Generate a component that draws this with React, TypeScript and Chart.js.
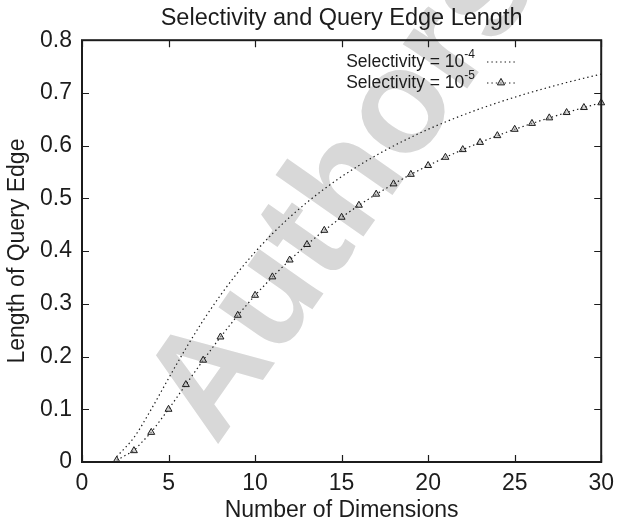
import React, { useEffect, useRef } from "react";
import { Chart, registerables } from "chart.js";

Chart.register(...registerables);

// ---- data ----
const dimensions = [2, 3, 4, 5, 6, 7, 8, 9, 10, 11, 12, 13, 14, 15, 16, 17, 18, 19, 20, 21, 22, 23, 24, 25, 26, 27, 28, 29, 30];
const edgeSel4 = [0.01, 0.0464, 0.1, 0.1585, 0.2154, 0.2683, 0.3162, 0.3594, 0.3981, 0.4329, 0.4642, 0.4924, 0.5179, 0.5412, 0.5623, 0.5816, 0.5995, 0.6158, 0.631, 0.6449, 0.6579, 0.67, 0.6813, 0.6918, 0.7017, 0.7109, 0.7197, 0.7279, 0.7356];
const edgeSel5 = [0.0032, 0.0215, 0.0562, 0.1, 0.1468, 0.1931, 0.2371, 0.2783, 0.3162, 0.3511, 0.3831, 0.4125, 0.4394, 0.4642, 0.487, 0.508, 0.5275, 0.5456, 0.5623, 0.5779, 0.5925, 0.6061, 0.619, 0.631, 0.6422, 0.6527, 0.6628, 0.6723, 0.6813];
const xTicks = [0, 5, 10, 15, 20, 25, 30];
const yTicks = [0, 0.1, 0.2, 0.3, 0.4, 0.5, 0.6, 0.7, 0.8];
const titleText = "Selectivity and Query Edge Length";
const xTitleText = "Number of Dimensions";
const yTitleText = "Length of Query Edge";
const legendBase = ["Selectivity = 10", "Selectivity = 10"];
const legendExp = ["-4", "-5"];
const watermarkText = "Authors";

const FONT = "'Liberation Sans', Arial, Helvetica, sans-serif";
const INK = "#1c1c1c";

const framePlugin = {
  id: "frameAndExtras",
  beforeDraw(chart: any) {
    const { ctx } = chart;
    ctx.save();
    ctx.translate(216, 447);
    ctx.rotate((-55 * Math.PI) / 180);
    ctx.font = `bold 148px ${FONT}`;
    ctx.fillStyle = "#d8d8d8";
    ctx.textAlign = "left";
    ctx.textBaseline = "alphabetic";
    ctx.fillText(watermarkText, 0, 0);
    ctx.restore();
  },
  afterDatasetsDraw(chart: any) {
    const { ctx, chartArea: a, scales } = chart;
    const x = scales.x;
    const y = scales.y;
    ctx.save();
    ctx.strokeStyle = INK;
    ctx.lineWidth = 1.2;
    ctx.beginPath();
    for (const t of xTicks) {
      const px = Math.round(x.getPixelForValue(t)) + 0.5;
      ctx.moveTo(px, a.bottom);
      ctx.lineTo(px, a.bottom - 7);
      ctx.moveTo(px, a.top);
      ctx.lineTo(px, a.top + 7);
    }
    for (const t of yTicks) {
      const py = Math.round(y.getPixelForValue(t)) + 0.5;
      ctx.moveTo(a.left, py);
      ctx.lineTo(a.left + 7, py);
      ctx.moveTo(a.right, py);
      ctx.lineTo(a.right - 7, py);
    }
    ctx.stroke();
    ctx.lineWidth = 2;
    ctx.strokeRect(a.left, a.top, a.right - a.left, a.bottom - a.top);

    // legend
    const rows = [62, 83];
    const textRight = 475;
    for (let i = 0; i < 2; i++) {
      const ry = rows[i];
      ctx.font = `12px ${FONT}`;
      const expW = ctx.measureText(legendExp[i]).width;
      ctx.font = `17.5px ${FONT}`;
      const baseW = ctx.measureText(legendBase[i]).width;
      ctx.fillStyle = INK;
      ctx.textBaseline = "middle";
      ctx.textAlign = "left";
      ctx.fillText(legendBase[i], textRight - expW - baseW, ry);
      ctx.font = `12px ${FONT}`;
      ctx.fillText(legendExp[i], textRight - expW, ry - 7);

      ctx.setLineDash([1.4, 3]);
      ctx.lineWidth = 1.2;
      ctx.beginPath();
      ctx.moveTo(487, ry);
      ctx.lineTo(515, ry);
      ctx.stroke();
      ctx.setLineDash([]);
      if (i === 1) {
        const cx = 501, cy = ry - 1, r = 3.6;
        ctx.beginPath();
        ctx.moveTo(cx, cy - r);
        ctx.lineTo(cx + r, cy + r * 0.8);
        ctx.lineTo(cx - r, cy + r * 0.8);
        ctx.closePath();
        ctx.fillStyle = "rgba(170,170,170,0.5)";
        ctx.fill();
        ctx.lineWidth = 1;
        ctx.stroke();
      }
    }
    ctx.restore();
  },
};

export default function App() {
  const ref = useRef<HTMLCanvasElement | null>(null);

  useEffect(() => {
    document.body.style.margin = "0";
    const canvas = ref.current;
    if (!canvas) return;
    const chart = new Chart(canvas, {
      type: "line",
      data: {
        datasets: [
          {
            label: "Selectivity = 10^-4",
            data: dimensions.map((d, i) => ({ x: d, y: edgeSel4[i] })),
            borderColor: INK,
            borderWidth: 1.2,
            borderDash: [1.4, 3],
            pointRadius: 0,
            cubicInterpolationMode: "monotone",
            fill: false,
          },
          {
            label: "Selectivity = 10^-5",
            data: dimensions.map((d, i) => ({ x: d, y: edgeSel5[i] })),
            borderColor: INK,
            borderWidth: 1.2,
            borderDash: [1.4, 3],
            pointStyle: "triangle",
            pointRadius: 4,
            pointBorderWidth: 1,
            pointBorderColor: INK,
            pointBackgroundColor: "rgba(170,170,170,0.5)",
            clip: false,
            fill: false,
          },
        ],
      } as any,
      options: {
        responsive: false,
        animation: false,
        devicePixelRatio: 1,
        layout: { padding: { left: 0, right: 13, top: 0, bottom: 0 } },
        plugins: {
          legend: { display: false },
          tooltip: { enabled: false },
          title: {
            display: true,
            fullSize: false,
            text: titleText,
            color: INK,
            font: { family: FONT, size: 23.5, weight: "normal" },
            padding: { top: 4, bottom: 8 },
          },
        },
        scales: {
          x: {
            type: "linear",
            min: 0,
            max: 30,
            afterBuildTicks: (s: any) => {
              s.ticks = xTicks.map((v) => ({ value: v }));
            },
            afterFit: (s: any) => {
              s.height = 63;
            },
            grid: { display: false, drawTicks: false },
            border: { display: false },
            ticks: {
              color: INK,
              padding: 8,
              maxRotation: 0,
              font: { family: FONT, size: 23 },
              callback: (v: any) => String(v),
            },
            title: {
              display: true,
              text: xTitleText,
              color: INK,
              font: { family: FONT, size: 23 },
              padding: { top: 0, bottom: 1 },
            },
          },
          y: {
            type: "linear",
            min: 0,
            max: 0.8,
            afterBuildTicks: (s: any) => {
              s.ticks = yTicks.map((v) => ({ value: v }));
            },
            afterFit: (s: any) => {
              s.width = 82;
            },
            grid: { display: false, drawTicks: false },
            border: { display: false },
            ticks: {
              color: INK,
              padding: 10,
              font: { family: FONT, size: 23 },
              callback: (v: any) => (Number(v) === 0 ? "0" : Number(v).toFixed(1)),
            },
            title: {
              display: true,
              text: yTitleText,
              color: INK,
              font: { family: FONT, size: 23 },
              padding: { top: 4, bottom: 0 },
            },
          },
        },
      } as any,
      plugins: [framePlugin],
    });
    return () => chart.destroy();
  }, []);

  return (
    <div style={{ width: 622, height: 525, background: "#fff" }}>
      <canvas ref={ref} width={622} height={525} style={{ display: "block" }} />
    </div>
  );
}
